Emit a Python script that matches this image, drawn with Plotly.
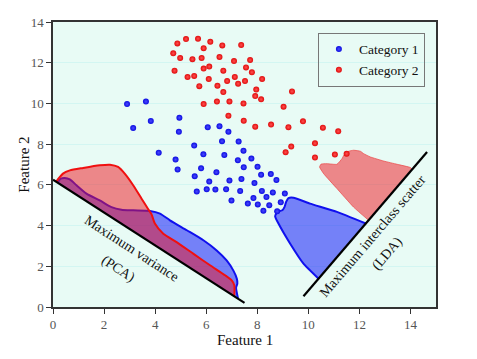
import plotly.graph_objects as go

# scatter points
cat1_x = [2.90, 3.64, 3.14, 3.83, 4.95, 4.93, 4.14, 5.53, 4.80, 5.89, 4.88, 5.80, 6.40, 5.55,
          6.06, 6.52, 6.87, 6.62, 6.71, 7.27, 7.24, 5.63, 6.12, 6.02, 6.36, 6.91, 6.78, 6.99,
          7.33, 7.46, 7.77, 7.47, 8.01, 8.15, 8.53, 8.75, 7.38, 7.89, 8.18, 8.61, 9.08, 7.85,
          8.36, 8.92, 7.63, 8.02, 8.47, 8.24, 8.78]
cat1_y = [9.97, 10.09, 8.79, 9.14, 9.30, 8.61, 7.58, 7.93, 7.24, 7.50, 6.76, 6.81, 6.62, 6.42,
          8.83, 8.88, 8.61, 8.14, 7.47, 8.13, 7.21, 5.67, 6.16, 5.78, 5.77, 6.21, 5.78, 5.23,
          5.70, 7.68, 7.29, 6.86, 6.89, 6.50, 6.53, 6.24, 6.29, 6.09, 5.70, 5.63, 5.57, 5.35,
          5.40, 5.14, 5.08, 5.04, 5.00, 4.73, 4.70]

cat2_x = [4.87, 5.21, 5.68, 6.16, 4.71, 4.98, 5.46, 5.82, 5.90, 4.76, 5.27, 5.53, 5.90, 6.12,
          6.10, 5.73, 5.90, 6.63, 6.52, 6.67, 7.09, 7.12, 7.25, 6.82, 6.44, 6.67, 6.42, 6.91,
          6.87, 7.37, 7.72, 7.56, 7.79, 8.19, 7.52, 7.96, 7.92, 8.15, 7.46, 9.36, 9.03, 7.92,
          8.54, 9.22, 9.79, 10.57, 11.17, 10.26, 9.33, 9.11, 10.26, 11.04, 11.50, 7.47]
cat2_y = [12.95, 13.16, 13.18, 13.03, 12.46, 12.23, 12.17, 12.23, 12.71, 11.61, 11.30, 11.35,
          11.71, 11.81, 11.20, 10.85, 9.97, 12.85, 12.28, 11.61, 12.08, 11.30, 10.97, 11.10,
          10.87, 10.56, 10.09, 10.10, 9.40, 12.87, 12.13, 11.77, 11.53, 11.20, 11.10, 10.68,
          10.36, 10.20, 10.00, 10.59, 9.84, 8.86, 8.96, 8.83, 9.12, 8.81, 8.63, 8.04, 7.88,
          7.60, 7.34, 7.49, 7.53, 9.15]

# projection lines
pca_line_x = [0.0, 7.5]
pca_line_y = [6.25, 0.2]
lda_line_x = [9.81, 14.65]
lda_line_y = [0.53, 7.61]

# projected distributions (outline vertices, closed along the projection line)
pca_blue_x = [0.18, 0.30, 0.46, 0.66, 0.92, 1.31, 1.83, 2.29, 2.68, 3.14, 3.80, 4.19, 4.58,
              5.24, 5.89, 6.41, 6.80, 7.06, 7.20, 7.22, 7.17, 7.25]
pca_blue_y = [6.10, 6.30, 6.34, 6.27, 5.98, 5.57, 5.24, 4.91, 4.78, 4.75, 4.72, 4.59, 4.26,
              3.77, 3.28, 2.78, 2.29, 1.80, 1.39, 1.15, 0.95, 0.40]
pca_red_x = [0.12, 0.39, 0.66, 1.18, 1.83, 2.23, 2.55, 2.81, 3.14, 3.47, 3.73, 3.86, 3.99,
             4.32, 4.84, 5.49, 6.15, 6.74, 7.00, 7.10, 7.10]
pca_red_y = [6.15, 6.55, 6.71, 6.83, 6.96, 6.99, 6.88, 6.55, 5.98, 5.32, 4.80, 4.55, 4.10,
             3.60, 3.19, 2.62, 2.05, 1.56, 1.31, 1.07, 0.52]
lda_blue_x = [12.25, 11.12, 10.07, 9.42, 9.22, 9.13, 9.07, 8.98, 8.85, 8.75, 8.70, 8.83, 9.29,
              9.81, 10.40]
lda_blue_y = [4.10, 4.67, 5.08, 5.37, 5.35, 5.16, 4.92, 4.75, 4.70, 4.60, 4.45, 4.10, 3.11,
              2.13, 1.39]
lda_red_x = [12.36, 11.77, 11.12, 10.60, 10.44, 10.50, 10.73, 11.12, 11.32, 11.40, 11.58,
             11.77, 12.04, 12.17, 12.43, 12.95, 13.48, 14.00, 14.07]
lda_red_y = [4.26, 4.91, 5.82, 6.55, 6.88, 7.02, 7.04, 7.01, 7.29, 7.48, 7.65, 7.70, 7.65,
             7.53, 7.37, 7.17, 7.01, 6.85, 6.76]

SERIF = 'Liberation Serif, Times New Roman, serif'

fig = go.Figure()

# distributions: blue first, red translucent on top
fig.add_trace(go.Scatter(x=pca_blue_x, y=pca_blue_y, mode='lines', fill='toself',
                         fillcolor='rgba(20,30,250,0.55)', showlegend=False, hoverinfo='skip',
                         line=dict(color='#1010ee', width=2, shape='spline', smoothing=0.6)))
fig.add_trace(go.Scatter(x=pca_red_x, y=pca_red_y, mode='lines', fill='toself',
                         fillcolor='rgba(240,20,30,0.5)', showlegend=False, hoverinfo='skip',
                         line=dict(color='#f01010', width=2, shape='spline', smoothing=0.6)))
fig.add_trace(go.Scatter(x=lda_blue_x, y=lda_blue_y, mode='lines', fill='toself',
                         fillcolor='rgba(20,30,250,0.55)', showlegend=False, hoverinfo='skip',
                         line=dict(color='#1010ee', width=2, shape='spline', smoothing=0.4)))
fig.add_trace(go.Scatter(x=lda_red_x, y=lda_red_y, mode='lines', fill='toself',
                         fillcolor='rgba(240,20,30,0.5)', showlegend=False, hoverinfo='skip',
                         line=dict(color='rgba(235,70,70,0.7)', width=1, shape='spline', smoothing=0.4)))

# projection axes
for lx, ly in [(pca_line_x, pca_line_y), (lda_line_x, lda_line_y)]:
    fig.add_trace(go.Scatter(x=lx, y=ly, mode='lines', showlegend=False, hoverinfo='skip',
                             line=dict(color='black', width=2.2)))

# samples
fig.add_trace(go.Scatter(x=cat1_x, y=cat1_y, mode='markers', name='Category 1',
                         marker=dict(color='#0a0ae0', size=6,
                                     gradient=dict(type='radial', color='#4a4aff'))))
fig.add_trace(go.Scatter(x=cat2_x, y=cat2_y, mode='markers', name='Category 2',
                         marker=dict(color='#e00a0a', size=6,
                                     gradient=dict(type='radial', color='#ff5050'))))

annos = [
    dict(text='Maximum variance', x=3.08, y=2.87, textangle=33),
    dict(text='(PCA)', x=2.55, y=1.88, textangle=33),
    dict(text='Maximum interclass scatter', x=12.50, y=3.48, textangle=-49.5),
    dict(text='(LDA)', x=13.08, y=2.62, textangle=-49.5),
]
for a in annos:
    fig.add_annotation(xref='x', yref='y', showarrow=False,
                       font=dict(family=SERIF, size=14, color='#111'), **a)

# axis titles placed by hand (page offsets are tight)
fig.add_annotation(xref='paper', yref='paper', x=0.5, y=-0.116, yanchor='middle',
                   text='Feature 1', showarrow=False,
                   font=dict(family=SERIF, size=15, color='#111'))
fig.add_annotation(xref='paper', yref='paper', x=-0.078, y=0.5, xanchor='center',
                   text='Feature 2', showarrow=False, textangle=-90,
                   font=dict(family=SERIF, size=15, color='#111'))

axis_common = dict(showline=True, linecolor='#333', linewidth=1.5, mirror=True,
                   ticks='outside', ticklen=5, tickcolor='#333', zeroline=False,
                   automargin=False,
                   tickfont=dict(family=SERIF, size=13, color='#555'))

# the page body adds an 8px offset, so the figure is shrunk by that much
fig.update_layout(
    width=469, height=351,
    margin=dict(l=45, r=41, t=14, b=52),
    paper_bgcolor='white',
    plot_bgcolor='#e8fbf5',
    font=dict(family=SERIF, color='#111'),
    xaxis=dict(range=[0, 15], tickvals=[0, 2, 4, 6, 8, 10, 12, 14], showgrid=False,
               **axis_common),
    yaxis=dict(range=[0, 14], tickvals=[0, 2, 4, 6, 8, 10, 12, 14], showgrid=True,
               gridcolor='#d3f6f2', gridwidth=1,
               **axis_common),
    legend=dict(x=0.971, y=0.962, xanchor='right', yanchor='top',
                bgcolor='rgba(0,0,0,0)', bordercolor='#777', borderwidth=1,
                font=dict(family=SERIF, size=13.5, color='#111'),
                itemwidth=30, tracegroupgap=0),
)

fig.write_html('out.html')
